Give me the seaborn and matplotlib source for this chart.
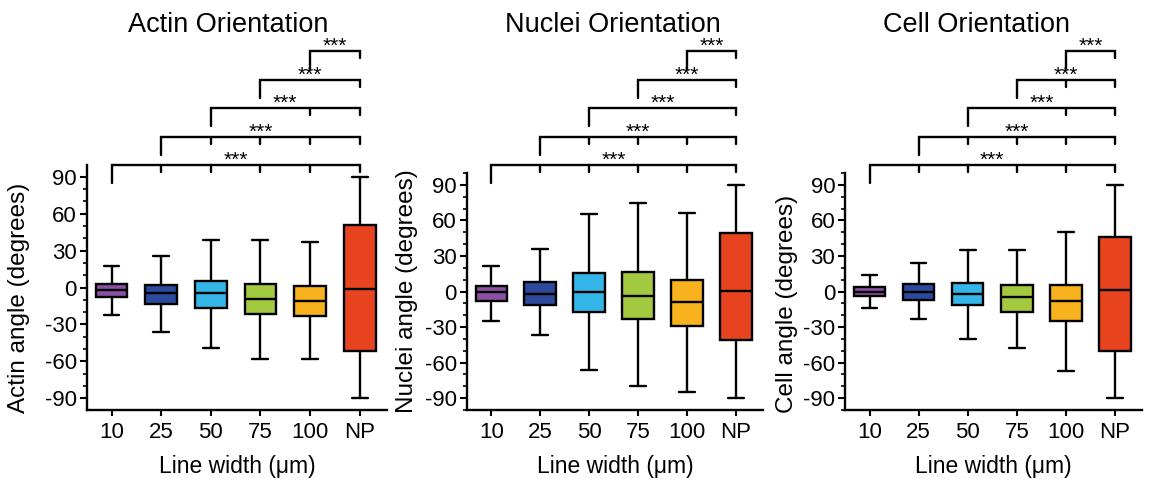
import numpy as np
import pandas as pd
import matplotlib
matplotlib.use("Agg")
import matplotlib.pyplot as plt
import seaborn as sns
from matplotlib.ticker import MultipleLocator
from matplotlib.transforms import blended_transform_factory

# ---------------- data ----------------
categories = ["10", "25", "50", "75", "100", "NP"]
colors = ["#8B4FA5", "#2B4A9C", "#35B6E9", "#A3C940", "#F7B21E", "#E8441F"]

titles = ["Actin Orientation", "Nuclei Orientation", "Cell Orientation"]
ylabels = ["Actin angle (degrees)", "Nuclei angle (degrees)", "Cell angle (degrees)"]
xlabel = "Line width (\u03bcm)"
yticks = [-90, -60, -30, 0, 30, 60, 90]
sig_label = "***"

# box statistics per group: lower whisker, Q1, median, Q3, upper whisker
actin_lo = [-22.6, -36.4, -48.8, -57.7, -57.7, -90.0]
actin_q1 = [-7.7, -13.7, -16.6, -21.5, -22.9, -51.6]
actin_med = [-2.0, -4.2, -4.5, -9.1, -10.7, -1.2]
actin_q3 = [2.8, 2.0, 5.5, 2.6, 0.9, 51.0]
actin_hi = [17.5, 25.3, 38.3, 38.6, 37.2, 90.0]

nuclei_lo = [-24.7, -36.6, -66.4, -79.9, -84.4, -90.0]
nuclei_q1 = [-8.2, -11.5, -17.7, -23.0, -28.7, -41.0]
nuclei_med = [-0.3, -2.0, -0.3, -3.9, -9.0, 0.6]
nuclei_q3 = [4.8, 8.2, 16.0, 16.3, 9.8, 49.2]
nuclei_hi = [21.7, 36.0, 65.5, 74.5, 66.6, 90.0]

cell_lo = [-14.1, -23.3, -39.7, -47.5, -67.2, -90.0]
cell_q1 = [-4.2, -7.0, -11.5, -17.2, -25.3, -50.3]
cell_med = [-0.6, -0.6, -2.2, -4.5, -8.2, 1.4]
cell_q3 = [3.9, 6.2, 7.0, 5.1, 5.6, 46.4]
cell_hi = [14.1, 23.9, 35.4, 35.2, 50.6, 90.0]

# significance brackets: start group index -> all compared to NP;
# intermediate tick marks on each bracket
bracket_starts = [0, 1, 2, 3, 4]
bracket_ticks = [
    [[1, 2, 3, 4], [2, 3, 4], [4], [], []],
    [[1, 2, 3, 4], [2, 3, 4], [], [], []],
    [[1, 2, 3, 4], [2, 3, 4], [4], [4], []],
]

panels = [
    (actin_lo, actin_q1, actin_med, actin_q3, actin_hi),
    (nuclei_lo, nuclei_q1, nuclei_med, nuclei_q3, nuclei_hi),
    (cell_lo, cell_q1, cell_med, cell_q3, cell_hi),
]

# ---------------- style / layout ----------------
W, H = 1151, 479
sns.set_style("ticks")
plt.rcParams["font.family"] = ["Liberation Sans", "DejaVu Sans"]
plt.rcParams["axes.unicode_minus"] = False
for key in ("axes.edgecolor", "xtick.color", "ytick.color", "text.color",
            "axes.labelcolor"):
    plt.rcParams[key] = "black"

fig = plt.figure(figsize=(W / 100, H / 100), dpi=100)

# axes boxes in pixels: left, right, top, bottom ; ylim ; ylabel right edge
ax_px = [(86.7, 387.0, 165.0, 410.0, 99.5, 30.0),
         (466.7, 763.0, 173.0, 410.0, 100.0, 418.0),
         (845.0, 1142.0, 173.0, 410.0, 100.0, 798.0)]
title_cx = [228.5, 613.0, 976.7]
title_base = 32.0
level_y0, level_step = 165.0, 28.5
left_leg, short_leg = 18.0, 7.0

for p in range(3):
    lo, q1, med, q3, hi = panels[p]
    rows = []
    for i, c in enumerate(categories):
        for v in (lo[i], q1[i], med[i], q3[i], hi[i]):
            rows.append({"width": c, "angle": v})
    df = pd.DataFrame(rows)

    l, r, t, b, yl, lab_x = ax_px[p]
    ax = fig.add_axes([l / W, 1 - b / H, (r - l) / W, (b - t) / H])
    sns.boxplot(data=df, x="width", y="angle", hue="width", order=categories,
                hue_order=categories, palette=colors, saturation=1, width=0.64,
                whis=(0, 100), linecolor="black", linewidth=1.7,
                legend=False, ax=ax, dodge=False)
    ax.set_ylim(-yl, yl)
    ax.set_xlim(-0.5, 5.55)
    ax.set_yticks(yticks)
    ax.yaxis.set_minor_locator(MultipleLocator(10))
    sns.despine(ax=ax)
    for s in ("left", "bottom"):
        ax.spines[s].set_linewidth(1.7)
    ax.tick_params(axis="y", which="major", direction="out", length=5,
                   width=1.5, labelsize=16, pad=2)
    ax.tick_params(axis="y", which="minor", direction="out", length=3, width=1.2)
    ax.tick_params(axis="x", which="major", direction="out", length=4,
                   width=1.5, labelsize=16, pad=5)
    ax.set_xlabel(xlabel, fontsize=16.5, labelpad=8)
    ax.set_ylabel(ylabels[p], fontsize=17.5)
    ax.yaxis.label.set_ha("left")
    ax.yaxis.set_label_coords((lab_x - l) / (r - l), -(413 - b) / (b - t))

    fig.text(title_cx[p] / W, 1 - title_base / H, titles[p], fontsize=19.5,
             ha="center", va="baseline")

    tr = blended_transform_factory(ax.transData, fig.transFigure)
    end = len(categories) - 1
    for k, s in enumerate(bracket_starts):
        yp = level_y0 - level_step * k
        yf = 1 - yp / H
        ax.plot([s, s, end, end],
                [1 - (yp + left_leg) / H, yf, yf, 1 - (yp + short_leg) / H],
                color="black", lw=1.7, transform=tr, clip_on=False,
                solid_joinstyle="miter")
        for tk in bracket_ticks[p][k]:
            ax.plot([tk, tk], [yf, 1 - (yp + short_leg) / H], color="black",
                    lw=1.7, transform=tr, clip_on=False)
        ax.text((s + end) / 2, 1 - (yp + 1.0) / H, sig_label, fontsize=15,
                ha="center", va="baseline", transform=tr)

fig.savefig("out.png", dpi=100)
